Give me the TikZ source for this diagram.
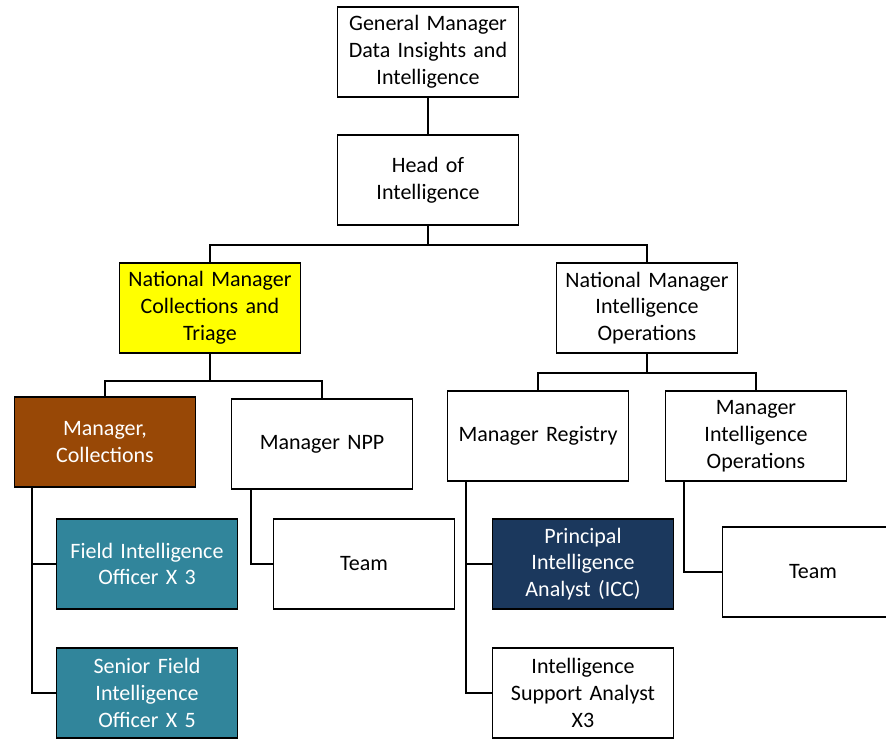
\documentclass[tikz,border=0pt]{standalone}
\usepackage{fontspec}
\setmainfont[WordSpace=0.8]{Carlito}
\definecolor{chartyellow}{RGB}{255,255,0}
\definecolor{chartbrown}{RGB}{152,72,6}
\definecolor{chartteal}{RGB}{49,133,155}
\definecolor{chartnavy}{RGB}{27,56,93}
\usetikzlibrary{positioning}

\tikzset{
  post/.style={draw=black, line width=1.5pt, fill=white, minimum width=181pt,
    minimum height=90pt, text width=178pt, align=center, inner sep=0pt,
    font=\fontsize{22}{26.8}\selectfont},
  wire/.style={line width=1.5pt, black},
}

\begin{document}
\begin{tikzpicture}[x=1pt, y=-1pt]
  \useasboundingbox (0,0) rectangle (886,740);

  % Top of the tree
  \node[post] (gm)   at (428, 52)  {General Manager\\Data Insights and\\Intelligence};
  \node[post] (head) at (428, 180) {Head of\\Intelligence};

  % National managers
  \node[post, fill=chartyellow] (nmct) at (210, 308) {National Manager\\Collections and\\Triage};
  \node[post] (nmio) at (647, 308) {National Manager\\Intelligence\\Operations};

  % Managers
  \node[post, fill=chartbrown, text=white] (mcol) at (105, 442) {Manager,\\Collections};
  \node[post] (mnpp) at (322, 444) {Manager NPP};
  \node[post] (mreg) at (538, 436) {Manager Registry};
  \node[post] (mio)  at (756, 436) {Manager\\Intelligence\\Operations};

  % Teams and officers
  \node[post, fill=chartteal, text=white] (fio)  at (147, 564) {Field Intelligence\\Officer X 3};
  \node[post, fill=chartteal, text=white] (sfio) at (147, 693) {Senior Field\\Intelligence\\Officer X 5};
  \node[post] (tnpp) at (364, 564) {Team};
  \node[post, fill=chartnavy, text=white] (pia) at (583, 564) {Principal\\Intelligence\\Analyst (ICC)};
  \node[post] (isa)  at (583, 693) {Intelligence\\Support Analyst\\X3};
  \node[post] (tio)  at (813, 572) {Team};

  % Connectors
  \draw[wire] (gm) -- (head);
  \draw[wire] (head.south) -- ++(0,19) -| (nmct.north);
  \draw[wire] (head.south) -- ++(0,19) -| (nmio.north);
  \draw[wire] (nmct.south) -- ++(0,27) -| (mcol.north);
  \draw[wire] (nmct.south) -- ++(0,27) -| (mnpp.north);
  \draw[wire] (nmio.south) -- ++(0,19) -| (mreg.north);
  \draw[wire] (nmio.south) -- ++(0,19) -| (mio.north);

  \draw[wire] ([xshift=-73pt]mcol.south) |- (fio.west);
  \draw[wire] ([xshift=-73pt]mcol.south) |- (sfio.west);
  \draw[wire] ([xshift=-71pt]mnpp.south) |- (tnpp.west);
  \draw[wire] ([xshift=-72pt]mreg.south) |- (pia.west);
  \draw[wire] ([xshift=-72pt]mreg.south) |- (isa.west);
  \draw[wire] ([xshift=-72pt]mio.south) |- (tio.west);
\end{tikzpicture}
\end{document}
